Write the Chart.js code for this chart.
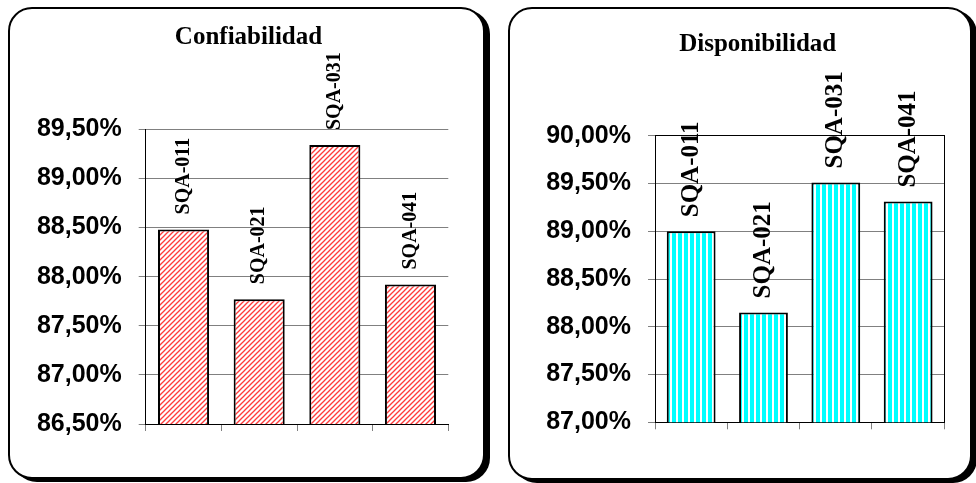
<!DOCTYPE html>
<html>
<head>
<meta charset="utf-8">
<script src="https://cdn.jsdelivr.net/npm/chart.js@4.4.1/dist/chart.umd.min.js"></script>
<style>
  body { margin: 0; background: #fff; width: 976px; height: 483px; overflow: hidden; position: relative; }
  .panel { position: absolute; box-sizing: border-box; border: 2px solid #000; border-radius: 24px; box-shadow: 5px 3px 0 #000; background: #fff; }
  #panelLeft { left: 8px; top: 7px; width: 477px; height: 472px; }
  #panelRight { left: 508px; top: 7px; width: 464px; height: 473px; }
  canvas { position: absolute; top: 0; }
  #confChart { left: 0; }
  #dispChart { left: 486px; }
</style>
</head>
<body>
<div class="panel" id="panelLeft"></div>
<div class="panel" id="panelRight"></div>
<canvas id="confChart" width="490" height="483"></canvas>
<canvas id="dispChart" width="490" height="483"></canvas>

<script>
// ====== Data ======
const equipos = ['SQA-011', 'SQA-021', 'SQA-031', 'SQA-041'];
const confiabilidad = [88.48, 87.77, 89.34, 87.92];
const disponibilidad = [89.00, 88.15, 89.51, 89.31];
const confTicks = [86.5, 87.0, 87.5, 88.0, 88.5, 89.0, 89.5];
const dispTicks = [87.0, 87.5, 88.0, 88.5, 89.0, 89.5, 90.0];

const fmtPct = v => v.toFixed(2).replace('.', ',') + '%';

// ====== Fill patterns ======
function redHatch() {
  const c = document.createElement('canvas');
  c.width = 5; c.height = 5;
  const g = c.getContext('2d');
  g.fillStyle = '#fff';
  g.fillRect(0, 0, 5, 5);
  g.strokeStyle = '#ff3b3b';
  g.lineWidth = 1.3;
  [[-1, 1, 1, -1], [0, 5, 5, 0], [4, 6, 6, 4]].forEach(l => {
    g.beginPath();
    g.moveTo(l[0], l[1]);
    g.lineTo(l[2], l[3]);
    g.stroke();
  });
  return g.createPattern(c, 'repeat');
}

function cyanStripes() {
  const c = document.createElement('canvas');
  c.width = 6; c.height = 4;
  const g = c.getContext('2d');
  g.fillStyle = '#fff';
  g.fillRect(0, 0, 6, 4);
  g.fillStyle = '#00ffff';
  g.fillRect(0, 0, 4, 4);
  return g.createPattern(c, 'repeat');
}

// ====== Chart title (placed over the panel, not the plot) ======
const panelTitle = {
  id: 'panelTitle',
  afterDraw(chart, args, opts) {
    const ctx = chart.ctx;
    ctx.save();
    ctx.font = 'bold 25px "Liberation Serif", "Times New Roman", serif';
    ctx.fillStyle = '#000';
    ctx.textAlign = 'center';
    ctx.textBaseline = 'middle';
    ctx.fillText(opts.text, opts.x, opts.y);
    ctx.restore();
  }
};

// ====== Vertical value labels above bars ======
const barLabels = {
  id: 'barLabels',
  afterDatasetsDraw(chart, args, opts) {
    const ctx = chart.ctx;
    chart.getDatasetMeta(0).data.forEach((bar, i) => {
      ctx.save();
      ctx.translate(bar.x, bar.y - opts.offset);
      ctx.rotate(-Math.PI / 2);
      ctx.font = 'bold ' + opts.size + 'px "Liberation Serif", "Times New Roman", serif';
      ctx.fillStyle = '#000';
      ctx.textAlign = 'left';
      ctx.textBaseline = 'middle';
      ctx.fillText(chart.data.labels[i], 0, 0);
      ctx.restore();
    });
  }
};

function makeChart(id, title, values, ticks, fill, cfg) {
  return new Chart(document.getElementById(id), {
    type: 'bar',
    data: {
      labels: equipos,
      datasets: [{
        data: values,
        backgroundColor: fill,
        borderColor: '#000',
        borderWidth: 2,
        borderSkipped: false,
        categoryPercentage: 1,
        barPercentage: 0.675
      }]
    },
    options: {
      responsive: false,
      animation: false,
      layout: { padding: { left: 0, right: cfg.padRight, top: cfg.padTop, bottom: 0 } },
      plugins: {
        legend: { display: false },
        tooltip: { enabled: false },
        title: { display: false },
        panelTitle: { text: title, x: cfg.titleX, y: cfg.titleY },
        barLabels: { size: cfg.labelSize, offset: cfg.labelOffset }
      },
      scales: {
        x: {
          offset: true,
          afterFit: s => { s.height = cfg.xHeight; },
          ticks: { display: false },
          border: { color: '#000', width: 1 },
          grid: { offset: true, drawOnChartArea: false, tickLength: 7, color: '#808080' }
        },
        y: {
          min: ticks[0],
          max: ticks[ticks.length - 1],
          afterFit: s => { s.width = cfg.yWidth; },
          afterBuildTicks: s => { s.ticks = ticks.map(v => ({ value: v })); },
          ticks: {
            padding: 17,
            color: '#000',
            font: { family: '"Liberation Sans", Arial, sans-serif', size: 25, weight: 'bold' },
            callback: v => fmtPct(v)
          },
          border: { color: '#000', width: 1 },
          grid: {
            tickLength: 7,
            color: c => (cfg.boxTop && c.tick && c.tick.value === ticks[ticks.length - 1]) ? '#000' : '#808080',
            tickColor: '#808080'
          }
        },
        yRight: {
          display: cfg.boxTop,
          position: 'right',
          min: ticks[0],
          max: ticks[ticks.length - 1],
          afterFit: s => { s.width = 0; },
          ticks: { display: false },
          grid: { display: false },
          border: { display: true, color: '#000', width: 1 }
        }
      }
    },
    plugins: [barLabels, panelTitle]
  });
}

makeChart('confChart', 'Confiabilidad', confiabilidad, confTicks, redHatch(), {
  padRight: 41.7, padTop: 129.3, yWidth: 145.7, xHeight: 59,
  titleX: 248.5, titleY: 38, labelSize: 20, labelOffset: 15, boxTop: false
});

makeChart('dispChart', 'Disponibilidad', disponibilidad, dispTicks, cyanStripes(), {
  padRight: 31.7, padTop: 135.7, yWidth: 169, xHeight: 60.7,
  titleX: 271.7, titleY: 45, labelSize: 25, labelOffset: 14, boxTop: true
});
</script>
</body>
</html>
